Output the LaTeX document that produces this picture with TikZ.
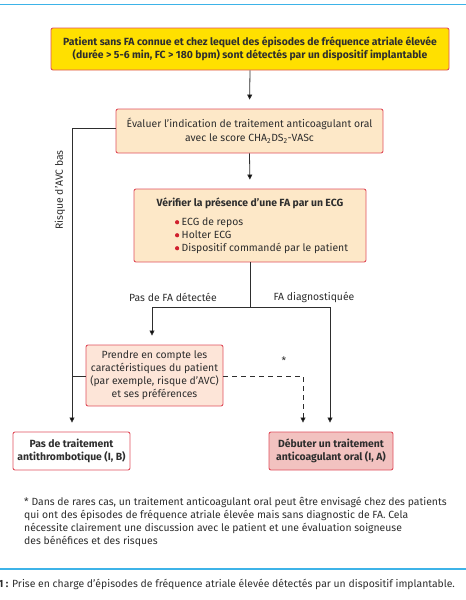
\documentclass[tikz,border=0pt]{standalone}
\usepackage{fontspec}
\setmainfont{Fira Sans}
\usetikzlibrary{arrows.meta}
\definecolor{txt}{HTML}{2E2E2E}
\definecolor{bred}{HTML}{E0505E}
\definecolor{yel}{HTML}{FFE000}
\definecolor{peach}{HTML}{FDE8C8}
\definecolor{rose}{HTML}{FDE5D8}
\definecolor{pink}{HTML}{F2C2C0}
\definecolor{blue}{HTML}{3DB3E8}
\definecolor{dot}{HTML}{D0202E}
\newcommand{\fs}{\fontsize{10.4}{13}\selectfont}
\tikzset{
  box/.style={draw=bred, line width=0.9pt, rounded corners=2pt, inner sep=2pt, align=center, text=txt, font=\fs},
  bbox/.style={box, font=\bfseries\fs},
  conn/.style={draw=txt, line width=0.8pt},
  arr/.style={conn, -{Triangle[width=5pt,length=5pt]}, shorten >=9pt},
  lab/.style={text=txt, font=\fs, inner sep=0pt},
}
\newcommand{\bul}{\tikz[baseline=-3pt]\fill[dot] (0,0) circle (2.1pt);\hspace{2.5pt}}
\begin{document}
\begin{tikzpicture}[x=1pt,y=-1pt]
\useasboundingbox (0,0) rectangle (466,600);
\draw[blue, line width=1.5pt] (0,4.5) -- (466,4.5);
\draw[blue, line width=1.2pt] (0,569) -- (466,569);

\node[bbox, fill=yel, minimum width=398pt, minimum height=42pt] (n1) at (250,49)
  {Patient sans FA connue et chez lequel des épisodes de fréquence atriale élevée\\(durée > 5-6 min, FC > 180 bpm) sont détectés par un dispositif implantable};
\node[box, fill=peach, minimum width=267pt, minimum height=44pt] (n2) at (249.5,131)
  {Évaluer l’indication de traitement anticoagulant oral\\[1pt]avec le score CHA\textsubscript{2}DS\textsubscript{2}-VASc};
\node[box, fill=peach, minimum width=232pt, minimum height=73pt, align=left] (n3) at (250,225.5)
  {\makebox[226pt][c]{\bfseries Vérifier la présence d’une FA par un ECG}\\[6pt]
   \hspace*{38pt}\bul ECG de repos\\
   \hspace*{38pt}\bul Holter ECG\\
   \hspace*{38pt}\bul Dispositif commandé par le patient};
\node[box, fill=rose, minimum width=137pt, minimum height=61pt] (n4) at (154.5,375.5)
  {Prendre en compte les\\caractéristiques du patient\\(par exemple, risque d’AVC)\\et ses préférences};
\node[bbox, fill=white, minimum width=117pt, minimum height=38pt] (n5) at (71.5,451)
  {Pas de traitement\\antithrombotique (I, B)};
\node[bbox, fill=pink, minimum width=124pt, minimum height=38pt] (n6) at (331,451)
  {Débuter un traitement\\anticoagulant oral (I, A)};

\coordinate (s) at (250,307);
\coordinate (sl) at (152,307);
\coordinate (sr) at (330,307);
\coordinate (lt) at (72,128);
\coordinate (lj) at (72,376);
\coordinate (dk) at (303,376);

\draw[arr] (n1.south) -- (n2.north);
\draw[arr] (n2.south) -- (n3.north);
\draw[arr] (n2.west |- lt) -- (lt) -- (lt |- n5.north);
\draw[conn] (n4.west |- lj) -- (lj);
\draw[conn] (n3.south) -- (s);
\draw[arr] (s) -- (sl) -- (sl |- n4.north);
\draw[arr] (s) -- (sr) -- (sr |- n6.north);
\draw[arr, dashed, dash pattern=on 5pt off 4pt] (n4.east |- dk) -- (dk) -- (dk |- n6.north);

\node[lab, rotate=90] (l1) at (60,190) {Risque d’AVC bas};
\node[lab] (l2) at (173,297) {Pas de FA détectée};
\node[lab] (l3) at (314,297) {FA diagnostiquée};
\node[lab] (l4) at (284,361) {*};

\node[lab, anchor=north west, align=left] (fn) at (24,497)
  {* Dans de rares cas, un traitement anticoagulant oral peut être envisagé chez des patients\\
   qui ont des épisodes de fréquence atriale élevée mais sans diagnostic de FA. Cela\\
   nécessite clairement une discussion avec le patient et une évaluation soigneuse\\
   des bénéfices et des risques};
\node[lab, anchor=west] (cap) at (-1.5,584)
  {\textbf{1 :} Prise en charge d’épisodes de fréquence atriale élevée détectés par un dispositif implantable.};
\end{tikzpicture}
\end{document}
